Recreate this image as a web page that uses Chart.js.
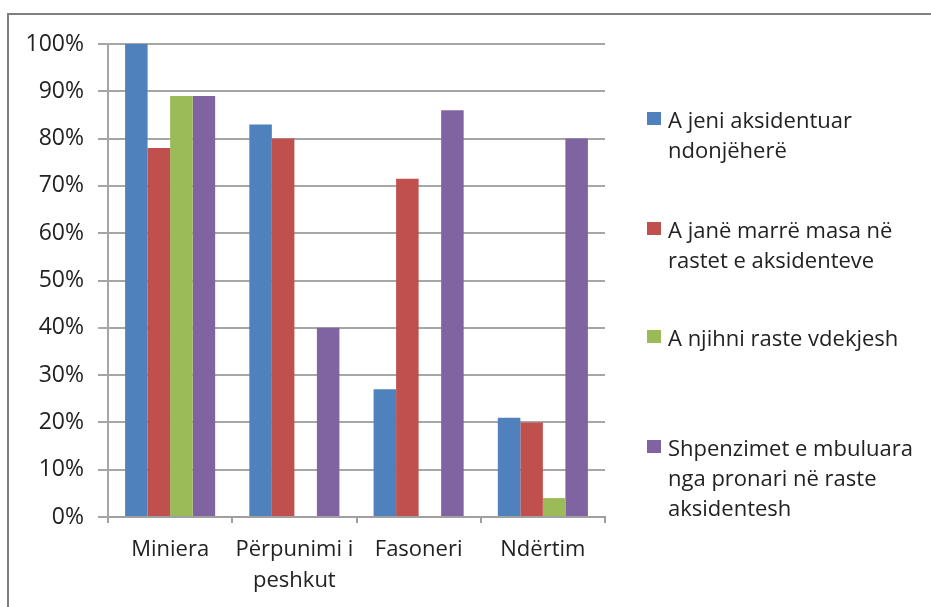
<!DOCTYPE html>
<html>
<head>
<meta charset="utf-8">
<script src="https://cdn.jsdelivr.net/npm/chart.js@4/dist/chart.umd.min.js"></script>
<style>
  body { margin: 0; background: #fff; }
  #wrap { position: relative; width: 931px; height: 607px; overflow: hidden; font-family: 'Open Sans', sans-serif; }
  #frame { position: absolute; left: 7px; top: 13px; width: 960px; height: 640px; border: 2px solid #7f7f7f; }
  #chart-canvas { position: absolute; left: 0; top: 0; }
  .leg { position: absolute; left: 647px; color: #222; font-size: 22px; line-height: 30px; white-space: pre; }
  .leg span.box { position: absolute; left: 0; top: 8px; width: 14px; height: 13px; }
  .leg span.txt { position: absolute; left: 21px; top: 0; }
</style>
</head>
<body>
<div id="wrap">
  <div id="frame"></div>
  <canvas id="chart-canvas" width="931" height="607"></canvas>
  <div id="legend"></div>
</div>
<script>
var categories = [['Miniera'], ['Përpunimi i', 'peshkut'], ['Fasoneri'], ['Ndërtim']];

var seriesNames = [
    'A jeni aksidentuar\nndonjëherë',
    'A janë marrë masa në\nrastet e aksidenteve',
    'A njihni raste vdekjesh',
    'Shpenzimet e mbuluara\nnga pronari në raste\naksidentesh'
];

var accidented = [100, 83, 27, 21];
var measures = [78, 80, 71.5, 20];
var deaths = [89, 0, 0, 4];
var costs = [89, 40, 86, 80];

var yTicks = [0, 10, 20, 30, 40, 50, 60, 70, 80, 90, 100];

var colors = ['#4F81BD', '#C0504D', '#9BBB59', '#8064A2'];
var legendTops = [104, 214, 322, 432];

var canvas = document.getElementById('chart-canvas');
var ctx = canvas.getContext('2d');

var values = [accidented, measures, deaths, costs];
var datasets = values.map(function (v, i) {
    return {
        label: seriesNames[i],
        data: v,
        backgroundColor: colors[i],
        borderWidth: 0,
        categoryPercentage: 0.725,
        barPercentage: 1.0
    };
});

// legend drawn as html, lines wrap like the original
var legend = document.getElementById('legend');
seriesNames.forEach(function (name, i) {
    var d = document.createElement('div');
    d.className = 'leg';
    d.style.top = legendTops[i] + 'px';
    d.innerHTML = '<span class="box" style="background:' + colors[i] + '"></span><span class="txt"></span>';
    d.querySelector('.txt').textContent = name;
    legend.appendChild(d);
});

var chart = new Chart(ctx, {
    type: 'bar',
    data: {
        labels: categories,
        datasets: datasets
    },
    options: {
        responsive: false,
        animation: false,
        layout: { padding: { left: 0, right: 326, top: 44, bottom: 0 } },
        plugins: { legend: { display: false }, tooltip: { enabled: false } },
        scales: {
            x: {
                grid: { drawOnChartArea: false, drawTicks: true, tickLength: 6, color: '#a0a0a0', lineWidth: 2 },
                border: { color: '#a0a0a0', width: 2 },
                ticks: {
                    color: '#222',
                    padding: 11,
                    maxRotation: 0,
                    autoSkip: false,
                    font: { family: 'Open Sans', size: 22, lineHeight: 1.42 }
                },
                afterFit: function (scale) { scale.height = 90; }
            },
            y: {
                min: 0,
                max: 100,
                afterBuildTicks: function (scale) {
                    scale.ticks = yTicks.map(function (v) { return { value: v }; });
                },
                grid: { color: '#a6a6a6', lineWidth: 2, tickLength: 10 },
                border: { color: '#a6a6a6', width: 2 },
                ticks: {
                    color: '#222',
                    padding: 14,
                    font: { family: 'Open Sans', size: 23 },
                    callback: function (v) { return v + '%'; }
                },
                afterFit: function (scale) { scale.width = 108; }
            }
        }
    }
});
</script>
</body>
</html>
